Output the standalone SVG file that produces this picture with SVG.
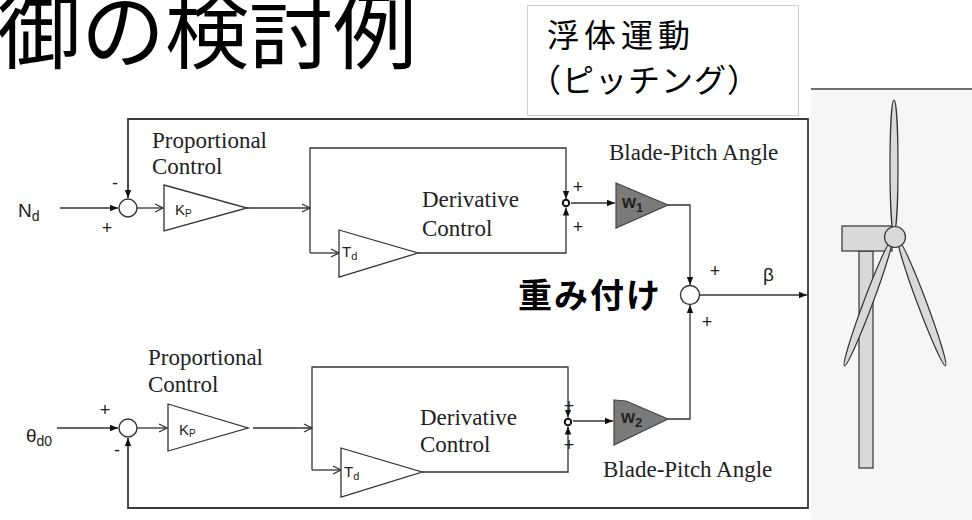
<svg xmlns="http://www.w3.org/2000/svg" width="972" height="520" viewBox="0 0 972 520">
  <style>
    .ln { fill: none; stroke: #333; stroke-width: 1.3; }
    .frame { fill: none; stroke: #3a3a3a; stroke-width: 1.8; }
    .sum { fill: #fff; stroke: #333; stroke-width: 1.4; }
    .node { fill: #fff; stroke: #333; stroke-width: 1.3; }
    .sm { fill: #fff; stroke: #111; stroke-width: 2; }
    .gain { fill: #7a7a7a; stroke: #444; stroke-width: 1.2; }
    .serif { font-family: "Liberation Serif", "Times New Roman", serif; font-size: 23px; fill: #222; }
    .sans { font-family: "Liberation Sans", Arial, sans-serif; fill: #222; }
    .sign { font-family: "Liberation Sans", Arial, sans-serif; font-size: 18px; fill: #222; text-anchor: middle; }
    .jp { font-family: "Noto Sans CJK JP", "Noto Sans CJK SC", sans-serif; fill: #000; }
    .part { fill: #d9d9d9; stroke: #333; stroke-width: 1.2; }
  </style>
  <defs>
    <marker id="arrF" viewBox="0 0 8 8" refX="8" refY="4" markerWidth="8" markerHeight="8" markerUnits="userSpaceOnUse" orient="auto">
      <path d="M0,0.8 L8,4 L0,7.2 Z" fill="#111"/>
    </marker>
    <marker id="arrO" viewBox="0 0 10 10" refX="9" refY="5" markerWidth="10" markerHeight="10" markerUnits="userSpaceOnUse" orient="auto">
      <path d="M1,1 L9,5 L1,9" fill="none" stroke="#333" stroke-width="1.3"/>
    </marker>
  </defs>

  <!-- heading -->
  <text class="jp" x="-3" y="62" font-size="84" font-weight="400">御の検討例</text>

  <!-- caption box -->
  <g id="caption">
    <rect x="527.5" y="5.5" width="271" height="110" fill="#fff" stroke="#d0d0d0" stroke-width="1"/>
    <text class="jp" x="547" y="47" font-size="32" letter-spacing="5">浮体運動</text>
    <text class="jp" x="529" y="92" font-size="32" letter-spacing="1">（ピッチング）</text>
  </g>

  <!-- turbine panel -->
  <g id="turbine">
    <rect x="811" y="89" width="161" height="431" fill="#f6f6f6"/>
    <line x1="811" y1="89" x2="972" y2="89" stroke="#444" stroke-width="1.6"/>
    <rect class="part" x="859" y="251" width="14" height="217"/>
    <rect class="part" x="842" y="226" width="50" height="25"/>
    <ellipse class="part" cx="894" cy="166" rx="4" ry="66"/>
    <ellipse class="part" cx="868" cy="303" rx="4.5" ry="67" transform="rotate(20.6 868 303)"/>
    <ellipse class="part" cx="922" cy="303" rx="4.5" ry="67" transform="rotate(-20.6 922 303)"/>
    <circle class="part" cx="895" cy="237" r="10.5"/>
  </g>

  <!-- connectors -->
  <g id="connectors">
    <!-- pitching feedback loop -->
    <path class="frame" d="M808,295 V119 H128 V198" marker-end="url(#arrF)"/>
    <path class="frame" d="M808,295 V508 H128 V438" marker-end="url(#arrF)"/>
    <!-- upper channel -->
    <path class="ln" d="M60,208 H118" marker-end="url(#arrF)"/>
    <path class="ln" d="M137,208 H163" marker-end="url(#arrO)"/>
    <path class="ln" d="M247,208 H310" marker-end="url(#arrO)"/>
    <path class="ln" d="M310,253 V148 H566 V199" marker-end="url(#arrF)"/>
    <path class="ln" d="M310,253 H339" marker-end="url(#arrO)"/>
    <path class="ln" d="M418,253 H566 V207.5" marker-end="url(#arrF)"/>
    <path class="ln" d="M571,203 H615" marker-end="url(#arrF)"/>
    <path class="ln" d="M668,205 H690 V285" marker-end="url(#arrF)"/>
    <!-- lower channel -->
    <path class="ln" d="M57,428 H118" marker-end="url(#arrF)"/>
    <path class="ln" d="M137,428 H167" marker-end="url(#arrO)"/>
    <path class="ln" d="M253,428 H312" marker-end="url(#arrO)"/>
    <path class="ln" d="M312,470 V367 H568 V417.5" marker-end="url(#arrF)"/>
    <path class="ln" d="M312,470 H341" marker-end="url(#arrO)"/>
    <path class="ln" d="M422,472 H568 V426.5" marker-end="url(#arrF)"/>
    <path class="ln" d="M573,421 H613" marker-end="url(#arrF)"/>
    <path class="ln" d="M668,419 H690 V305" marker-end="url(#arrF)"/>
    <!-- combined output -->
    <path class="ln" d="M700,295 H807" marker-end="url(#arrF)"/>
  </g>

  <!-- upper channel blocks -->
  <g id="in-nd">
    <text class="sans" x="18" y="217" font-size="19">N<tspan font-size="14" dy="4">d</tspan></text>
  </g>
  <g id="sum-n">
    <circle class="sum" cx="128" cy="208" r="9"/>
    <text class="sign" x="115" y="189">-</text>
    <text class="sign" x="107" y="234">+</text>
  </g>
  <g id="kp-1">
    <text class="serif" x="152" y="148">Proportional</text>
    <text class="serif" x="152" y="174">Control</text>
    <polygon class="node" points="164,185 247,208 164,231"/>
    <text class="sans" x="175" y="215" font-size="15">K<tspan font-size="10" dy="2">P</tspan></text>
  </g>
  <g id="td-1">
    <text class="serif" x="422" y="207">Derivative</text>
    <text class="serif" x="422" y="236">Control</text>
    <polygon class="node" points="339,230 418,253 339,277"/>
    <text class="sans" x="342" y="257" font-size="15">T<tspan font-size="11" dy="3">d</tspan></text>
  </g>
  <g id="sum-d1">
    <circle class="sm" cx="566" cy="203" r="3.2"/>
    <text class="sign" x="578" y="193">+</text>
    <text class="sign" x="578" y="233">+</text>
  </g>
  <g id="w1">
    <text class="serif" x="609" y="160">Blade-Pitch Angle</text>
    <polygon class="gain" points="616,183 668,205 616,228"/>
    <text class="sans" x="622" y="208" font-size="18" font-weight="bold" fill="#222">w<tspan font-size="13" dy="4">1</tspan></text>
  </g>

  <!-- weighting sum -->
  <g id="sum-w">
    <circle class="sum" cx="690" cy="295" r="9.5"/>
    <text class="jp" x="518" y="308" font-size="34" font-weight="bold" letter-spacing="2">重み付け</text>
    <text class="sign" x="715" y="277">+</text>
    <text class="sign" x="707" y="328">+</text>
    <text class="sans" x="763" y="281" font-size="19">β</text>
  </g>

  <!-- lower channel blocks -->
  <g id="in-theta">
    <text class="sans" x="26" y="442" font-size="19">θ<tspan font-size="14" dy="4">d0</tspan></text>
  </g>
  <g id="sum-theta">
    <circle class="sum" cx="128" cy="428" r="9"/>
    <text class="sign" x="105" y="416">+</text>
    <text class="sign" x="117" y="456">-</text>
  </g>
  <g id="kp-2">
    <text class="serif" x="148" y="365">Proportional</text>
    <text class="serif" x="148" y="392">Control</text>
    <polygon class="node" points="168,404 248,428 168,451"/>
    <text class="sans" x="179" y="435" font-size="15">K<tspan font-size="10" dy="2">P</tspan></text>
  </g>
  <g id="td-2">
    <text class="serif" x="420" y="425">Derivative</text>
    <text class="serif" x="420" y="452">Control</text>
    <polygon class="node" points="341,448 422,472 341,497"/>
    <text class="sans" x="344" y="477" font-size="15">T<tspan font-size="11" dy="3">d</tspan></text>
  </g>
  <g id="sum-d2">
    <circle class="sm" cx="568" cy="422" r="3.2"/>
    <text class="sign" x="569" y="412">+</text>
    <text class="sign" x="569" y="451">+</text>
  </g>
  <g id="w2">
    <polygon class="gain" points="614,400 626,401 668,419 614,445"/>
    <text class="sans" x="621" y="423" font-size="18" font-weight="bold" fill="#222">w<tspan font-size="13" dy="4">2</tspan></text>
    <text class="serif" x="603" y="477">Blade-Pitch Angle</text>
  </g>
</svg>
